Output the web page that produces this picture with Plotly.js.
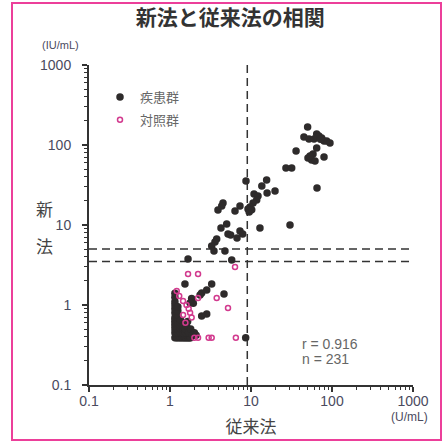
<!DOCTYPE html>
<html>
<head>
<meta charset="utf-8">
<script src="https://cdn.plot.ly/plotly-3.0.1.min.js"></script>
<style>html,body{margin:0;padding:0;background:#fff;}#chart{width:443px;height:443px;}</style>
</head>
<body>
<div id="chart"></div>
<script>
// ---- data ----
const seriesNames = ["疾患群", "対照群"];
const diseaseX = [
  50, 45, 52, 64.7, 69, 74.6, 79.7, 86, 94.4, 60, 66, 72, 36, 64.7, 58.3, 50.5, 56, 61.7, 53.5, 79.7, 27, 31.8, 65.3,
  8.67, 15.6, 19.8, 13.6, 15.8, 10.9, 12.2, 11.75, 10.6, 9.72, 9.18, 9.5, 10.2, 7.31, 6.35, 4.51, 4.35, 3.91, 12.9, 30.3,
  5.01, 4.26, 5.2, 5.61, 7.31, 7.9, 6.72, 3.77, 3.59, 3.27, 3.49, 4.77, 1.67, 5.78,
  1.53, 3.27, 2.84, 2.46, 2.35, 4.64, 1.85, 1.94, 1.77, 2.84, 2.46, 8.6,
  1.15, 1.2, 1.25, 1.3, 1.35, 1.4, 1.45, 1.5, 1.55, 1.6, 1.65, 1.7, 1.75, 1.8,
  1.15, 1.15, 1.15, 1.15, 1.15, 1.15, 1.15, 1.15, 1.15, 1.15, 1.15, 1.15,
  1.25, 1.25, 1.25, 1.25, 1.25, 1.25, 1.25, 1.25,
  1.35, 1.35, 1.35, 1.35, 1.35,
  1.45, 1.45, 1.45, 1.55, 1.55, 1.7,
  1.6, 1.8, 2.0, 1.9, 1.65, 2.1
];
const diseaseY = [
  168, 126, 119, 137, 130, 122, 112, 112, 106, 119, 125, 118, 84, 92, 77, 69, 65, 63, 73, 71, 51.6, 51.6, 29,
  35.5, 36.5, 26.6, 30.7, 25.1, 24.4, 23, 20.5, 18.8, 16.8, 15.8, 14.5, 15.5, 17.3, 15, 18.8, 17.3, 15.4, 9.17, 10,
  10.3, 9.17, 7.72, 7.5, 8.41, 7.72, 6.88, 6.68, 6.13, 5.47, 4.73, 4.73, 3.76, 3.65,
  1.83, 1.83, 1.54, 1.41, 1.33, 1.37, 1.21, 1.05, 1.06, 0.77, 0.73, 0.39,
  0.39, 0.39, 0.39, 0.39, 0.39, 0.39, 0.39, 0.39, 0.39, 0.39, 0.39, 0.39, 0.39, 0.39,
  0.45, 0.5, 0.55, 0.6, 0.65, 0.7, 0.8, 0.9, 1.0, 1.1, 1.25, 1.4,
  0.45, 0.5, 0.55, 0.6, 0.7, 0.75, 0.85, 0.95,
  0.45, 0.5, 0.55, 0.6, 0.65,
  0.45, 0.5, 0.55, 0.45, 0.5, 0.45,
  0.55, 0.5, 0.45, 0.42, 0.62, 0.42
];
const controlX = [6.35, 1.67, 2.22, 1.21, 1.3, 1.45, 1.6, 1.7, 1.77, 1.85, 1.45, 2.22, 3.77, 5.2, 2.0, 2.22, 3.0, 3.27, 6.5, 1.55];
const controlY = [2.99, 2.44, 2.44, 1.5, 1.3, 1.12, 1.0, 0.9, 0.8, 0.7, 0.75, 1.22, 1.22, 0.92, 0.39, 0.39, 0.39, 0.39, 0.39, 0.6];
const cutoffX = [9];
const cutoffY = [5, 3.5];
const axisRange = [0.1, 1000];
const tickVals = [0.1, 1, 10, 100, 1000];
const tickText = ["0.1", "1", "10", "100", "1000"];
const minorTickVals = [0.2,0.3,0.4,0.5,0.6,0.7,0.8,0.9,2,3,4,5,6,7,8,9,20,30,40,50,60,70,80,90,200,300,400,500,600,700,800,900];
const statsText = ["r = 0.916", "n = 231"];
const titleText = "新法と従来法の相関";
const xTitle = "従来法";
const yTitleChars = ["新", "法"];
const yUnit = "(IU/mL)";
const xUnit = "(U/mL)";

// ---- traces ----
const INK = "#2e2b2b";
const PINK = "#d23a8e";
const traces = [];
cutoffX.forEach(v => traces.push({x: [v, v], y: axisRange, mode: "lines", showlegend: false, hoverinfo: "skip",
  line: {color: "#333", width: 1.5, dash: "8px,5px"}}));
cutoffY.forEach(v => traces.push({x: axisRange, y: [v, v], mode: "lines", showlegend: false, hoverinfo: "skip",
  line: {color: "#333", width: 1.5, dash: "8px,5px"}}));
traces.push({x: diseaseX, y: diseaseY, mode: "markers", name: seriesNames[0], legendgroup: "a",
  marker: {color: INK, size: 7.5, line: {width: 0}}});
traces.push({x: controlX, y: controlY, mode: "markers", name: seriesNames[1], legendgroup: "b",
  marker: {symbol: "circle-open", color: PINK, size: 5, line: {width: 1.5, color: PINK}}});

const L = 89, T = 65, W = 324, H = 320;
const px = v => (v - L) / W;
const py = v => (T + H - v) / H;

const axisCommon = {
  type: "log", range: [-1, 3], showgrid: false, zeroline: false,
  showline: true, linewidth: 2, linecolor: "#333",
  ticks: "outside", ticklen: 5, tickwidth: 1.5, tickcolor: "#333",
  tickmode: "array", tickvals: tickVals, ticktext: tickText,
  tickfont: {family: "Liberation Sans, Arial, sans-serif", size: 14, color: "#4a4a5e"},
  minor: {tickmode: "array", tickvals: minorTickVals, ticks: "outside", ticklen: 3, tickwidth: 1, tickcolor: "#333"}
};

const layout = {
  width: 443, height: 443, autosize: false,
  margin: {l: L, r: 443 - L - W, t: T, b: 443 - T - H, pad: 0},
  paper_bgcolor: "#fff", plot_bgcolor: "#fff",
  font: {family: "Liberation Sans, Noto Sans CJK JP, sans-serif", color: "#444"},
  title: {text: "<b>" + titleText + "</b>", x: 0.52, xanchor: "center", y: 1 - 17.5 / 443, yanchor: "middle",
    font: {family: "Noto Sans CJK JP, sans-serif", size: 21, color: "#333"}},
  xaxis: Object.assign({}, axisCommon, {
    ticklabelstandoff: -3,
    title: {text: xTitle, standoff: 13, font: {family: "Noto Sans CJK JP, sans-serif", size: 17, color: "#444"}}
  }),
  yaxis: Object.assign({}, axisCommon, {ticklabelstandoff: 8}),
  showlegend: true,
  legend: {x: px(100), y: py(82), xanchor: "left", yanchor: "top", bgcolor: "rgba(0,0,0,0)",
    traceorder: "grouped", tracegroupgap: 3,
    font: {family: "Noto Sans CJK JP, sans-serif", size: 13, color: "#666"}},
  annotations: [
    {text: yUnit, xref: "paper", yref: "paper", x: px(60), y: py(45), showarrow: false, xanchor: "center", yanchor: "middle",
      font: {family: "Liberation Sans Narrow, Liberation Sans, sans-serif", size: 11, color: "#4a4a5e"}},
    {text: xUnit, xref: "paper", yref: "paper", x: px(409), y: py(417), showarrow: false, xanchor: "center", yanchor: "middle",
      font: {family: "Liberation Sans Narrow, Liberation Sans, sans-serif", size: 12, color: "#4a4a5e"}},
    {text: statsText[0], xref: "paper", yref: "paper", x: px(300), y: py(344), showarrow: false, xanchor: "left", yanchor: "middle",
      font: {family: "Liberation Sans, sans-serif", size: 14, color: "#666"}},
    {text: statsText[1], xref: "paper", yref: "paper", x: px(300), y: py(359), showarrow: false, xanchor: "left", yanchor: "middle",
      font: {family: "Liberation Sans, sans-serif", size: 14, color: "#666"}},
    {text: yTitleChars[0], xref: "paper", yref: "paper", x: px(44), y: py(208), showarrow: false, xanchor: "center", yanchor: "middle",
      font: {family: "Noto Sans CJK JP, sans-serif", size: 17, color: "#444"}},
    {text: yTitleChars[1], xref: "paper", yref: "paper", x: px(44), y: py(245), showarrow: false, xanchor: "center", yanchor: "middle",
      font: {family: "Noto Sans CJK JP, sans-serif", size: 17, color: "#444"}}
  ],
  shapes: [
    {type: "rect", xref: "paper", yref: "paper", x0: px(12), x1: px(441), y0: py(440), y1: py(3),
      line: {color: "#ec3f9a", width: 2}, fillcolor: "rgba(0,0,0,0)"}
  ]
};

Plotly.newPlot("chart", traces, layout, {staticPlot: true, displayModeBar: false});
</script>
</body>
</html>
